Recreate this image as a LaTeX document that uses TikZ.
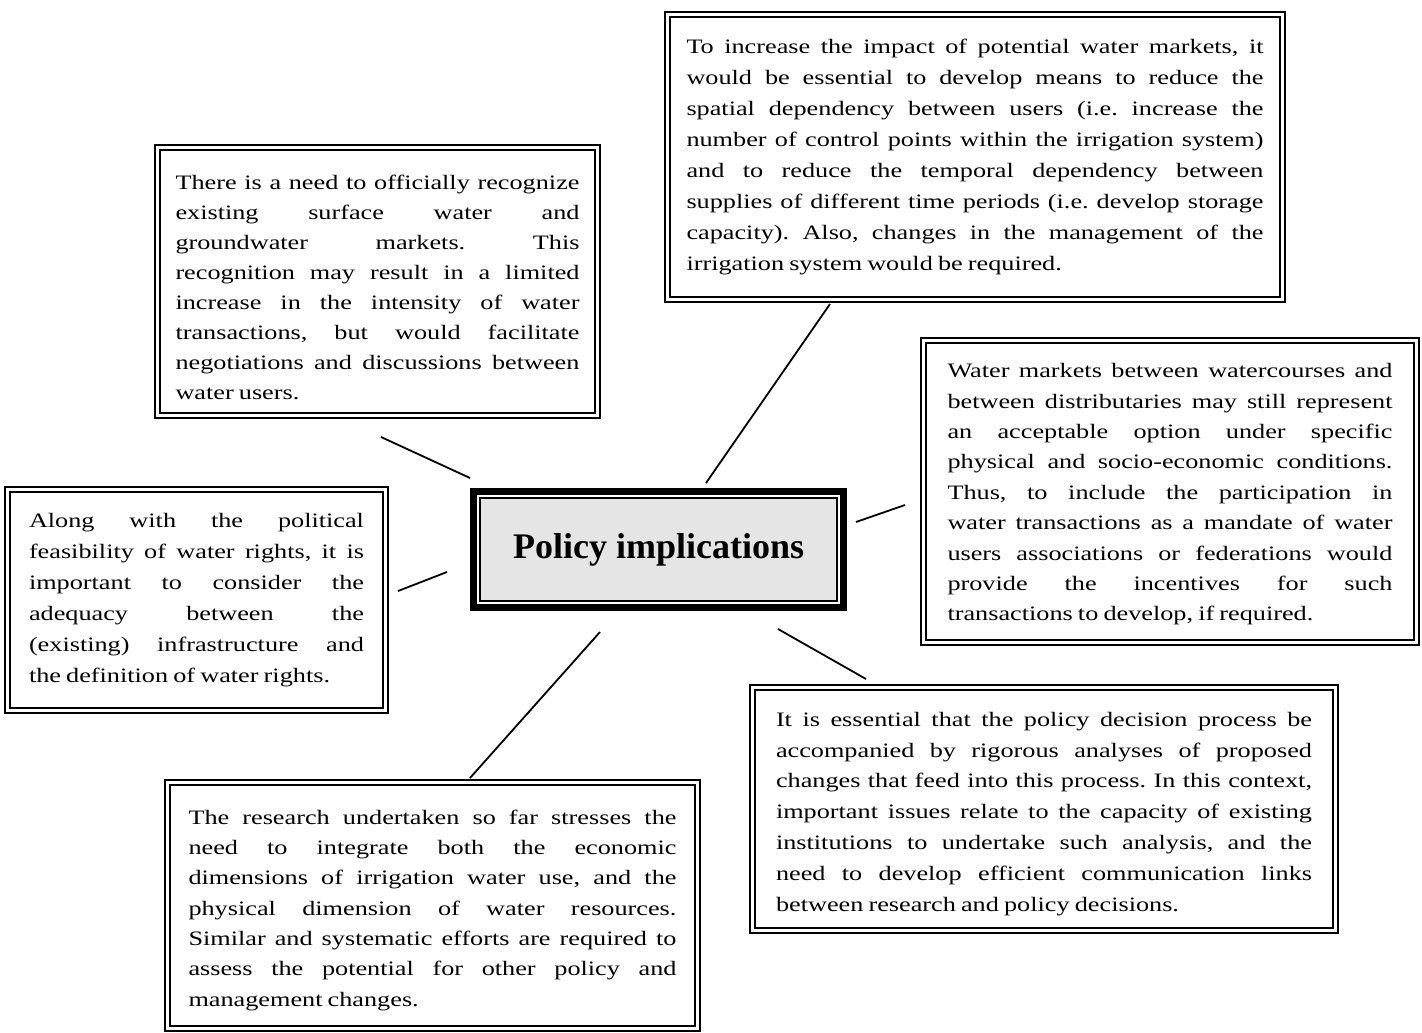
\documentclass[tikz,border=0pt]{standalone}
\usepackage{fontspec}
\setmainfont{Liberation Serif}[FakeStretch=1.28]
\newfontfamily\titlefont{Liberation Serif}
\newcommand\bodyfont[1]{\fontsize{20.5}{#1}\selectfont\frenchspacing
  \spaceskip=0.25em plus 2em minus 0.06em\relax
  \tolerance=10000\hbadness=10000\parfillskip=0pt plus 1fil\relax}
\newcommand\topgap[1]{\rule{0pt}{#1}}
\tikzset{
  tbox/.style={draw, line width=1.2pt, inner sep=0pt, outer sep=0pt, anchor=center, align=justify},
  link/.style={line width=1.8pt},
  frame/.style={line width=2.8pt}
}
\begin{document}
\begin{tikzpicture}[x=1pt,y=-1pt]
\useasboundingbox[fill=white] (0,0) rectangle (1422,1033);

% central node
\node[draw, line width=1.5pt, fill=black!10, minimum width=357pt, minimum height=103pt,
      inner sep=0pt, outer sep=0pt] (c) at (658.5,549.5)
      {\titlefont\fontsize{36}{40}\selectfont\bfseries Policy implications};
\draw[line width=7pt] ([xshift=-6.5pt,yshift=6.5pt]c.north west) rectangle ([xshift=6.5pt,yshift=-6.5pt]c.south east);

\node[tbox, minimum width=435pt, minimum height=263pt, text width=404pt, font={\bodyfont{29.9}}] (b1) at (377.5,281.5) {%
\topgap{26pt}There is a need to officially recognize\linebreak
existing surface water and\linebreak
groundwater markets. This\linebreak
recognition may result in a limited\linebreak
increase in the intensity of water\linebreak
transactions, but would facilitate\linebreak
negotiations and discussions between\linebreak
water users.};

\node[tbox, minimum width=610pt, minimum height=280pt, text width=577pt, font={\bodyfont{31.1}}] (b2) at (975,157) {%
To increase the impact of potential water markets, it\linebreak
would be essential to develop means to reduce the\linebreak
spatial dependency between users (i.e. increase the\linebreak
number of control points within the irrigation system)\linebreak
and to reduce the temporal dependency between\linebreak
supplies of different time periods (i.e. develop storage\linebreak
capacity). Also, changes in the management of the\linebreak
irrigation system would be required.};

\node[tbox, minimum width=373pt, minimum height=216pt, text width=335pt, font={\bodyfont{31}}] (b3) at (196.5,600) {%
Along with the political\linebreak
feasibility of water rights, it is\linebreak
important to consider the\linebreak
adequacy between the\linebreak
(existing) infrastructure and\linebreak
the definition of water rights.};

\node[tbox, minimum width=488pt, minimum height=297pt, text width=445pt, font={\bodyfont{30.4}}] (b4) at (1170,491.5) {%
\topgap{20pt}Water markets between watercourses and\linebreak
between distributaries may still represent\linebreak
an acceptable option under specific\linebreak
physical and socio-economic conditions.\linebreak
Thus, to include the participation in\linebreak
water transactions as a mandate of water\linebreak
users associations or federations would\linebreak
provide the incentives for such\linebreak
transactions to develop, if required.};

\node[tbox, minimum width=578pt, minimum height=238pt, text width=536pt, font={\bodyfont{30.8}}] (b5) at (1044,809) {%
\topgap{24pt}It is essential that the policy decision process be\linebreak
accompanied by rigorous analyses of proposed\linebreak
changes that feed into this process. In this context,\linebreak
important issues relate to the capacity of existing\linebreak
institutions to undertake such analysis, and the\linebreak
need to develop efficient communication links\linebreak
between research and policy decisions.};

\node[tbox, minimum width=525pt, minimum height=241pt, text width=488pt, font={\bodyfont{30.3}}] (b6) at (432.5,905.5) {%
\topgap{24pt}The research undertaken so far stresses the\linebreak
need to integrate both the economic\linebreak
dimensions of irrigation water use, and the\linebreak
physical dimension of water resources.\linebreak
Similar and systematic efforts are required to\linebreak
assess the potential for other policy and\linebreak
management changes.};

\foreach \n in {b1,b2,b3,b4,b5,b6}
  \draw[frame] ([xshift=-5pt,yshift=5pt]\n.north west) rectangle ([xshift=5pt,yshift=-5pt]\n.south east);

% connector end points
\coordinate (l1a) at (381,437); \coordinate (l1b) at (470,478);
\coordinate (l2a) at (830,304); \coordinate (l2b) at (706,483);
\coordinate (l3a) at (398,591); \coordinate (l3b) at (447,572);
\coordinate (l4a) at (856,522); \coordinate (l4b) at (905,505);
\coordinate (l5a) at (778,629); \coordinate (l5b) at (866,679);
\coordinate (l6a) at (600,632); \coordinate (l6b) at (470,778);
\draw[link] (l1a) -- (l1b);
\draw[link] (l2a) -- (l2b);
\draw[link] (l3a) -- (l3b);
\draw[link] (l4a) -- (l4b);
\draw[link] (l5a) -- (l5b);
\draw[link] (l6a) -- (l6b);
\end{tikzpicture}
\end{document}
